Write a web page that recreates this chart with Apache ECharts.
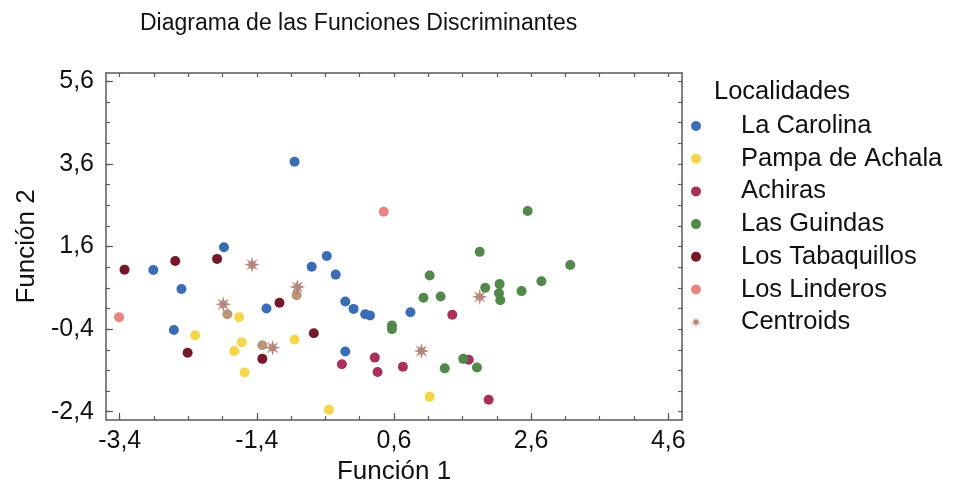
<!DOCTYPE html>
<html>
<head>
<meta charset="utf-8">
<script src="https://cdn.jsdelivr.net/npm/echarts@6/dist/echarts.min.js"></script>
<style>
html,body{margin:0;padding:0;background:#fff;}
#chart{width:955px;height:497px;}
</style>
</head>
<body>
<div id="chart"></div>
<script>
// ---- data ----
const seriesNames = ['La Carolina','Pampa de Achala','Achiras','Las Guindas','Los Tabaquillos','Los Linderos','Centroids'];
const laCarolina = [[-2.91,1.03],[-1.88,1.58],[-2.50,0.57],[-2.61,-0.42],[-1.26,0.10],[-0.60,1.11],[-0.38,1.37],[-0.25,0.92],[-0.11,0.27],[0.01,0.09],[0.18,-0.04],[0.25,-0.07],[-0.11,-0.94],[-0.85,3.65],[0.84,0.01]];
const pampaDeAchala = [[-2.30,-0.55],[-1.66,-0.11],[-1.73,-0.93],[-1.62,-0.72],[-1.58,-1.45],[-0.85,-0.65],[-0.35,-2.35],[1.12,-2.04]];
const achiras = [[-0.16,-1.25],[0.32,-1.09],[0.36,-1.44],[1.45,-0.05],[1.69,-1.14],[0.73,-1.31],[1.98,-2.11]];
const lasGuindas = [[2.55,2.46],[1.85,1.47],[3.17,1.15],[1.12,0.90],[2.75,0.76],[2.14,0.69],[1.93,0.60],[2.46,0.52],[2.13,0.47],[2.15,0.30],[1.03,0.36],[1.28,0.39],[0.57,-0.31],[0.57,-0.40],[1.61,-1.12],[1.34,-1.35],[1.81,-1.33]];
const losTabaquillos = [[-3.33,1.04],[-2.59,1.25],[-1.98,1.30],[-2.41,-0.97],[-1.07,0.24],[-1.32,-1.12],[-0.57,-0.50]];
const losLinderos = [[-3.41,-0.11],[0.45,2.44]];
const centroids = [[-1.47,1.16],[-1.89,0.20],[-0.81,0.62],[-1.17,-0.85],[1.00,-0.93],[1.85,0.38]];
const centroidBlobs = [[-1.83,-0.04],[-0.82,0.42],[-1.32,-0.79]];
const xMajorTicks = [-3.4,-1.4,0.6,2.6,4.6];
const yMajorTicks = [-2.4,-0.4,1.6,3.6,5.6];
const xMinorTicks = [-3.4,-2.9,-2.4,-1.9,-1.4,-0.9,-0.4,0.1,0.6,1.1,1.6,2.1,2.6,3.1,3.6,4.1,4.6];
const yMinorTicks = [-2.4,-1.9,-1.4,-0.9,-0.4,0.1,0.6,1.1,1.6,2.1,2.6,3.1,3.6,4.1,4.6,5.1,5.6];

const colors = ['#3b6db5','#f6d54b','#a9305b','#52894a','#74182a','#e8857f','#a0695a'];
const starPath = 'path://M20 10 L13.7 11.7 L17.07 17.07 L11.7 13.7 L10 20 L8.3 13.7 L2.93 17.07 L6.3 11.7 L0 10 L6.3 8.3 L2.93 2.93 L8.3 6.3 L10 0 L11.7 6.3 L17.07 2.93 L13.7 8.3 Z';
const FONT = "'Liberation Sans', Arial, sans-serif";
const fmt = v => String(Math.round(v*10)/10).replace('.', ',');

const XMIN = -3.6, XMAX = 4.8, YMIN = -2.6, YMAX = 5.8;
const lineStyle = {color:'#5a5a5a', width:1.5};

function xAxis(pos, ticks, len, labels, showLine){
  return {type:'value', position:pos, min:XMIN, max:XMAX, gridIndex:0,
    axisLine:{show:showLine, onZero:false, lineStyle},
    axisTick:{show:true, inside:true, length:len, customValues:ticks, lineStyle:{color:'#5a5a5a', width:1.2}},
    axisLabel:{show:labels, customValues:xMajorTicks, formatter:fmt, color:'#111', fontSize:25, fontFamily:FONT, margin:9},
    splitLine:{show:false}};
}
function yAxis(pos, ticks, len, labels, showLine){
  return {type:'value', position:pos, min:YMIN, max:YMAX, gridIndex:0,
    axisLine:{show:showLine, onZero:false, lineStyle},
    axisTick:{show:true, inside:true, length:len, customValues:ticks, lineStyle:{color:'#5a5a5a', width:1.2}},
    axisLabel:{show:labels, customValues:yMajorTicks, formatter:fmt, color:'#111', fontSize:25, fontFamily:FONT, margin:12},
    splitLine:{show:false}};
}

const chart = echarts.init(document.getElementById('chart'), null, {renderer:'canvas'});
const dataSets = [laCarolina, pampaDeAchala, achiras, lasGuindas, losTabaquillos, losLinderos];
const series = dataSets.map((d,i)=>({
  name: seriesNames[i], type:'scatter', xAxisIndex:0, yAxisIndex:0,
  symbol:'circle', symbolSize:10, itemStyle:{color:colors[i], opacity:1},
  data:d, z:2
}));
series.push({
  name: seriesNames[6], type:'scatter', xAxisIndex:0, yAxisIndex:0,
  symbol:starPath, symbolSize:16, itemStyle:{color:colors[6]},
  data: centroids.map(p=>({value:p})).concat(centroidBlobs.map(p=>({value:p, symbol:'circle', symbolSize:10, itemStyle:{color:'#a87b58'}}))),
  z:3
});

chart.setOption({
  animation:false,
  backgroundColor:'#fff',
  color:colors,
  title:[
    {text:'Diagrama de las Funciones Discriminantes', left:135, top:7,
     textStyle:{fontSize:23, fontWeight:'normal', color:'#111', fontFamily:FONT}},
    {text:'Localidades', left:709, top:74,
     textStyle:{fontSize:25.5, fontWeight:'normal', color:'#111', fontFamily:FONT}}
  ],
  legend:{
    orient:'vertical', left:686, top:108, itemWidth:10, itemHeight:10, itemGap:6.7,
    data: seriesNames.map((n,i)=>({name:n, icon: i===6 ? starPath : 'circle'})),
    textStyle:{fontSize:25.5, color:'#111', fontFamily:FONT, lineHeight:26, padding:[0,0,0,35]}
  },
  grid:{left:106, right:273, top:73, bottom:77, containLabel:false},
  xAxis:[
    Object.assign(xAxis('bottom', xMajorTicks, 7, true, true), {name:'Función 1', nameLocation:'middle', nameGap:35,
      nameTextStyle:{fontSize:26, color:'#111', fontFamily:FONT}}),
    xAxis('bottom', xMinorTicks, 4, false, false),
    xAxis('top', xMinorTicks, 4, false, true)
  ],
  yAxis:[
    Object.assign(yAxis('left', yMajorTicks, 7, true, true), {name:'Función 2', nameLocation:'middle', nameGap:58, nameRotate:90,
      nameTextStyle:{fontSize:26, color:'#111', fontFamily:FONT}}),
    yAxis('left', yMinorTicks, 4, false, false),
    yAxis('right', yMinorTicks, 4, false, true)
  ],
  series: series
});
</script>
</body>
</html>
